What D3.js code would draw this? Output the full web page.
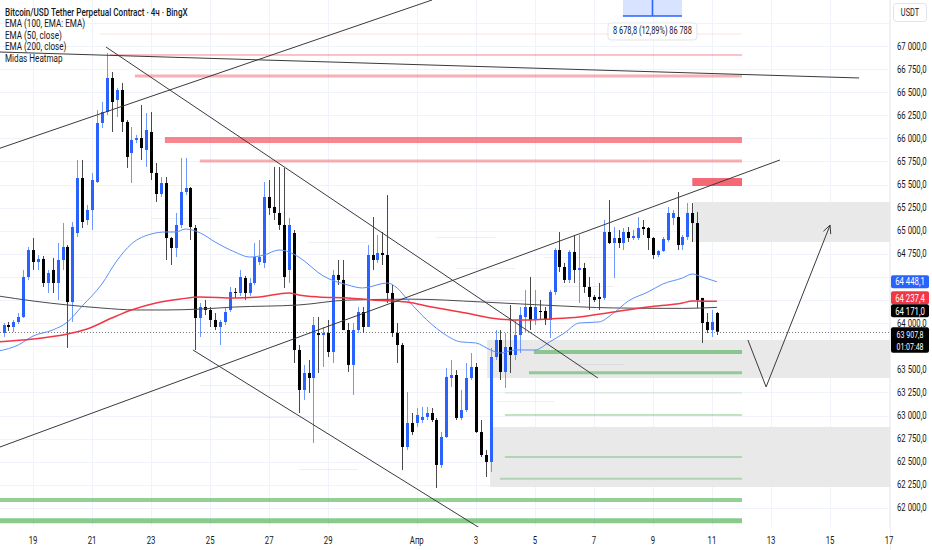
<!DOCTYPE html>
<html>
<head>
<meta charset="utf-8">
<script src="https://cdn.jsdelivr.net/npm/d3@7"></script>
<style>
  html, body { margin: 0; padding: 0; background: #fff; }
  svg { display: block; }
  text { font-family: "Roboto", "Liberation Sans", sans-serif; }
</style>
</head>
<body>
<div id="chart"></div>
<script>
// 4h candles, index 0 = 18 Mar 00:00
const opens = [63894,63980,63959,64013,64067,64500,64792,64662,64695,64435,64576,64435,64684,64825,64229,64976,65571,65117,65225,65528,66167,66286,66654,66416,66524,66178,65842,65983,66004,65875,66069,65626,65398,65517,64922,64814,65063,65420,65463,65030,64056,64175,64143,64035,63959,64013,64143,64338,64327,64489,64327,64435,64662,64652,65366,65258,65193,65063,64576,64976,63710,63277,63461,63407,63894,63872,63894,63688,64522,64468,63926,63548,63926,64121,63959,64738,64684,64760,64738,64327,63894,63764,62660,62920,62920,62952,62985,63028,62952,62465,62768,63407,63439,62974,63060,63407,63526,62822,62573,62498,63634,63818,63472,63742,63656,63872,64067,64175,64035,64132,64132,64035,64338,64792,64608,64468,64771,64576,64597,64392,64284,64284,64273,64987,64868,64922,64868,64987,64922,64922,65041,65030,64922,64738,64781,64900,65139,65149,64846,64933,65193,65084,64273,64013,63926,64110];
const highs = [64002,64013,64035,64110,64576,64825,64922,64738,64727,64576,64706,64868,65084,64846,65095,65766,65766,65279,65626,66307,66394,66924,66719,66546,66600,66199,66123,66037,66362,66275,66286,65734,65582,65582,64933,65193,65788,65788,65474,65063,64219,64251,64175,64110,64035,64164,64392,64381,64576,64511,64489,64868,64900,65528,65550,65691,65691,65680,65139,65009,63764,63548,63602,64067,64067,63959,64035,64576,64684,64684,64002,64002,64175,64175,64846,65149,64955,64987,65387,64413,64002,63786,63255,63028,63082,63093,63093,63082,62974,62822,63515,63602,63493,63277,63569,63677,63569,62952,62628,63732,63926,63926,63894,64197,64035,64175,64359,64500,64359,64251,64175,64359,64814,64987,64652,64792,64955,64955,64652,64500,64305,64435,65117,65333,65041,65009,65030,65041,65009,65149,65117,65041,64933,64792,64933,65258,65225,65420,64955,65301,65301,65204,64273,64110,64143,64121];
const lows = [63851,63916,63905,63991,64056,64468,64576,64576,64392,64327,64327,64251,64576,63732,64013,64933,65030,65063,65009,65517,66113,66253,66069,66232,66069,65680,65517,65950,65766,65691,65550,65312,65366,64684,64630,64716,65030,65387,64900,63710,63851,64089,63959,63926,63764,63980,64121,64273,64294,64251,64294,64413,64630,64597,65171,65117,65009,64381,64435,63569,63028,63169,63245,62703,63461,63526,63634,63569,64413,63926,63472,63223,63894,63894,63959,64576,64652,64630,64219,63851,63569,62411,62628,62790,62877,62920,62952,62931,62216,62433,62757,63309,62952,62952,63039,63385,62812,62552,62335,62389,63602,63385,63299,63461,63602,63677,63894,63926,63980,64035,63980,63840,64305,64554,64435,64435,64435,64219,64327,64143,64229,64143,64251,64857,64489,64814,64792,64879,64900,64900,64955,64792,64695,64716,64771,64879,65063,64792,64792,64900,64879,64164,63786,63894,63851,63872];
const closes = [63980,63959,64013,64067,64500,64792,64662,64695,64435,64543,64435,64684,64825,64229,65041,65571,65095,65225,65550,66167,66286,66654,66394,66524,66178,65799,65983,66004,65896,66091,65626,65398,65517,64922,64814,65063,65420,65463,65041,64056,64175,64143,64035,63959,64013,64121,64338,64327,64500,64327,64435,64716,64716,65366,65247,65193,65063,64500,65063,63710,63277,63461,63407,63980,63872,63894,63688,64522,64468,63926,63548,63926,64121,63959,64738,64684,64760,64738,64327,63894,63764,62660,62920,62822,63006,62985,63028,62952,62465,62768,63418,63439,62974,63060,63407,63526,62822,62573,62498,63634,63818,63472,63742,63656,63872,64089,64175,64035,64175,64121,64035,64338,64792,64608,64468,64771,64576,64597,64392,64284,64251,64262,64987,64868,64922,64868,64987,64922,64944,65030,65019,64922,64738,64781,64911,65193,65193,64846,64933,65193,65084,64251,64002,63926,64013,63907.8];

// indicator lines read at candle indices
const ema50Idx = [-1,3,6,10,13,16,20,23,26,30,33,35,37,40,43,47,50,53,56,58,60,65,70,73,78,80,82,85,89,93,96,99,101,104,108,111,114,117,121,124,127,131,134,138,140,142,145];
const ema50Val = [63699,63764,63861,63926,64013,64186,64424,64673,64857,64965,64987,64987,65019,64976,64879,64771,64716,64738,64792,64771,64716,64511,64413,64381,64435,64381,64262,64089,63905,63797,63786,63710,63677,63710,63710,63797,63894,64002,64013,64110,64240,64338,64424,64489,64532,64500,64448];
const ema200Idx = [-1,6,13,17,22,26,31,36,40,47,52,58,60,64,70,75,82,87,94,99,104,107,111,117,124,131,138,140,145];
const ema200Val = [63797,63829,63883,63937,64056,64143,64219,64262,64284,64273,64284,64327,64305,64284,64273,64251,64229,64175,64110,64056,64035,64035,64046,64067,64121,64175,64219,64240,64237];
const ema100Idx = [-1,6,13,20,27,33,40,47,60,70,83,97,110,124,138,145];
const ema100Val = [64294,64240,64197,64164,64143,64143,64153,64175,64197,64250,64260,64230,64195,64165,64160,64171];

// drawn trend lines: [index, price] pairs
const trendLines = [
  [[-0.71, 65894], [87.1, 67498]],
  [[-0.71, 66935], [173.9, 66654]],
  [[20.83, 66989], [120.8, 63407]],
  [[38.5, 63710], [97.5, 61760]],
  [[-0.71, 62660], [157.8, 65766]]
];
const projection = [[151.3, 63818], [155.0, 63310], [168.0, 65061]];

// Midas heatmap levels: [startIdx, endIdx, price, style]
const redLevels = [[19.6, 150.1, 67130, 0], [21.6, 150.1, 66903, 1], [26.7, 150.1, 66675, 2], [32.8, 150.1, 65983, 3], [39.9, 150.1, 65755, 2]];
const redBlock = [140, 150.1, 65571, 65485];
const greenLevels = [[107.8, 150.1, 63688, 3], [106.8, 150.1, 63464, 2], [101.9, 150.1, 63245, 0], [101.9, 150.1, 63006, 1], [101.9, 150.1, 62552, 1], [100.9, 150.1, 62317, 1], [-1, 150.1, 62087, 3], [-1, 150.1, 61862, 4]];
const grayZones = [[98.3, 181, 63818, 63407], [98.9, 181, 62877, 62227], [140.2, 181, 65312, 64879]];
// faint gray heatmap ticks: [startIdx, endIdx, price]
const faintLevels = [[88, 100, 64932], [92, 104, 64600], [97, 106, 64250], [30, 44, 65140], [100, 112, 63160], [40, 60, 63330], [42, 62, 62980], [60, 72, 62420], [110, 124, 64720], [113, 124, 64400], [116, 126, 63560], [62, 74, 64880]];

const xTickDates = ["2024-03-19","2024-03-21","2024-03-23","2024-03-25","2024-03-27","2024-03-29","2024-04-01","2024-04-03","2024-04-05","2024-04-07","2024-04-09","2024-04-11","2024-04-13","2024-04-15","2024-04-17"];
const yTicks = d3.range(62000, 67251, 250);
const legendLines = ["Bitcoin/USD Tether Perpetual Contract · 4ч · BingX", "EMA (100, EMA: EMA)", "EMA (50, close)", "EMA (200, close)", "Midas Heatmap"];
const priceTags = [
  { price: 64448.1, color: "#2962ff", text: "64 448,1" },
  { price: 64237.4, color: "#f23645", text: "64 237,4" },
  { price: 64171.0, color: "#000000", text: "64 171,0" }
];
const lastPrice = 63907.8;
const countdown = "01:07:48";
const measureText = "8 678,8 (12,89%) 86 788";
const measure = { start: 125.9, end: 137.9, bottom: 67325 };

const W = 932, H = 550, plotW = 890, plotH = 527;
const SX = 0.74; // horizontal squeeze of the reference's lettering
const T0 = Date.UTC(2024, 2, 18);
const t = i => new Date(T0 + i * 4 * 3600 * 1000);

const x = d3.scaleUtc().domain([t(-3.5 / 4.92), t((plotW - 3.5) / 4.92)]).range([0, plotW]);
const y = d3.scaleLinear().domain([61794, 67498]).range([plotH, 0]);
const xi = i => x(t(i));
const fmt = v => d3.format(",.1f")(v).replace(/,/g, " ").replace(".", ",");

function label(parent, px, py, str, size, fill, anchor, weight) {
  return parent.append("text")
    .attr("transform", `translate(${px},${py}) scale(${SX},1)`)
    .attr("text-anchor", anchor || "start")
    .attr("font-size", size).attr("fill", fill)
    .attr("font-weight", weight || 400)
    .text(str);
}

const svg = d3.select("#chart").append("svg").attr("width", W).attr("height", H);
svg.append("rect").attr("width", W).attr("height", H).attr("fill", "#fff");

const plot = svg.append("g");
plot.append("clipPath").attr("id", "clip").append("rect").attr("width", plotW).attr("height", plotH);
const g = plot.append("g").attr("clip-path", "url(#clip)");

// grid
g.append("g").selectAll("line").data(yTicks).join("line")
  .attr("x1", 0).attr("x2", plotW)
  .attr("y1", d => Math.round(y(d)) + 0.5).attr("y2", d => Math.round(y(d)) + 0.5)
  .attr("stroke", "#f0f3fa");
g.append("g").selectAll("line").data(xTickDates).join("line")
  .attr("x1", d => Math.round(x(new Date(d))) + 0.5).attr("x2", d => Math.round(x(new Date(d))) + 0.5)
  .attr("y1", 0).attr("y2", plotH)
  .attr("stroke", "#f0f3fa");

// gray zones
g.append("g").selectAll("rect").data(grayZones).join("rect")
  .attr("x", d => xi(d[0])).attr("width", d => xi(d[1]) - xi(d[0]))
  .attr("y", d => y(d[2])).attr("height", d => y(d[3]) - y(d[2]))
  .attr("fill", "#e9e9ea");

// faint heatmap ticks
g.append("g").selectAll("line").data(faintLevels).join("line")
  .attr("x1", d => xi(d[0])).attr("x2", d => xi(d[1]))
  .attr("y1", d => Math.round(y(d[2])) + 0.5).attr("y2", d => Math.round(y(d[2])) + 0.5)
  .attr("stroke", "rgba(120,123,134,0.12)");

// heatmap levels
const redStyle = [[1, "rgba(242,54,69,0.15)"], [2, "rgba(242,54,69,0.3)"], [3, "rgba(242,54,69,0.4)"], [6, "rgba(242,54,69,0.6)"]];
g.append("g").selectAll("line").data(redLevels).join("line")
  .attr("x1", d => xi(d[0])).attr("x2", d => xi(d[1]))
  .attr("y1", d => y(d[2])).attr("y2", d => y(d[2]))
  .attr("stroke", d => redStyle[d[3]][1]).attr("stroke-width", d => redStyle[d[3]][0]);
g.append("rect")
  .attr("x", xi(redBlock[0])).attr("width", xi(redBlock[1]) - xi(redBlock[0]))
  .attr("y", y(redBlock[2])).attr("height", y(redBlock[3]) - y(redBlock[2]))
  .attr("fill", "rgba(242,54,69,0.75)");
const greenStyle = [[1, "rgba(76,175,80,0.25)"], [2, "rgba(76,175,80,0.35)"], [3, "rgba(76,175,80,0.55)"], [4, "rgba(76,175,80,0.6)"], [5, "rgba(76,175,80,0.65)"]];
g.append("g").selectAll("line").data(greenLevels).join("line")
  .attr("x1", d => xi(d[0])).attr("x2", d => xi(d[1]))
  .attr("y1", d => y(d[2])).attr("y2", d => y(d[2]))
  .attr("stroke", d => greenStyle[d[3]][1]).attr("stroke-width", d => greenStyle[d[3]][0]);

// last price dotted line
g.append("line").attr("x1", 0).attr("x2", plotW)
  .attr("y1", Math.round(y(lastPrice)) + 0.5).attr("y2", Math.round(y(lastPrice)) + 0.5)
  .attr("stroke", "#787b86").attr("stroke-dasharray", "1,2");

// candles
const candles = d3.range(opens.length).map(i => ({ i, o: opens[i], h: highs[i], l: lows[i], c: closes[i] }));
const up = d => d.c >= d.o;
const cg = g.append("g");
cg.selectAll("line").data(candles).join("line")
  .attr("x1", d => Math.round(xi(d.i)) + 0.5).attr("x2", d => Math.round(xi(d.i)) + 0.5)
  .attr("y1", d => y(d.h)).attr("y2", d => y(d.l))
  .attr("stroke", d => up(d) ? "#6d98ff" : "#4a4a4a");
cg.selectAll("rect").data(candles).join("rect")
  .attr("x", d => Math.round(xi(d.i)) - 1).attr("width", 3)
  .attr("y", d => y(Math.max(d.o, d.c)))
  .attr("height", d => Math.max(1, Math.abs(y(d.o) - y(d.c))))
  .attr("fill", d => up(d) ? "#2962ff" : "#000");

// EMAs
const emaLine = d3.line().x(d => xi(d[0])).y(d => y(d[1])).curve(d3.curveMonotoneX);
const emas = [
  [ema100Idx, ema100Val, "#4a4a4a", 1],
  [ema50Idx, ema50Val, "#5b8ff9", 1],
  [ema200Idx, ema200Val, "#f23645", 1.5]
];
emas.forEach(([idx, val, col, w]) => {
  g.append("path").datum(idx.map((d, k) => [d, val[k]]))
    .attr("d", emaLine).attr("fill", "none").attr("stroke", col).attr("stroke-width", w);
});

// trend lines
const straight = d3.line().x(d => xi(d[0])).y(d => y(d[1]));
g.append("g").selectAll("path").data(trendLines).join("path")
  .attr("d", straight).attr("fill", "none").attr("stroke", "#3a3a3a").attr("stroke-width", 1);
g.append("path").datum(projection).attr("d", straight)
  .attr("fill", "none").attr("stroke", "#3a3a3a").attr("stroke-width", 1);
const tip = projection[projection.length - 1], prev = projection[projection.length - 2];
const ang = Math.atan2(y(tip[1]) - y(prev[1]), xi(tip[0]) - xi(prev[0]));
[ang + Math.PI - 0.45, ang + Math.PI + 0.45].forEach(a => {
  g.append("line").attr("x1", xi(tip[0])).attr("y1", y(tip[1]))
    .attr("x2", xi(tip[0]) + 9 * Math.cos(a)).attr("y2", y(tip[1]) + 9 * Math.sin(a))
    .attr("stroke", "#3a3a3a");
});

// measure box
const mx0 = xi(measure.start), mx1 = xi(measure.end), my = y(measure.bottom);
g.append("rect").attr("x", mx0).attr("y", 0).attr("width", mx1 - mx0).attr("height", my).attr("fill", "rgba(41,98,255,0.18)");
g.append("line").attr("x1", mx0).attr("x2", mx1).attr("y1", my).attr("y2", my).attr("stroke", "#2962ff").attr("stroke-width", 1.5);
g.append("line").attr("x1", (mx0 + mx1) / 2).attr("x2", (mx0 + mx1) / 2).attr("y1", 0).attr("y2", my).attr("stroke", "#2962ff").attr("stroke-width", 1.5);
const mlab = g.append("g");
const mt = label(mlab, (mx0 + mx1) / 2, my + 18, measureText, 10, "#131722", "middle");
const mw = mt.node().getBBox().width * SX;
mlab.insert("rect", "text").attr("x", (mx0 + mx1) / 2 - mw / 2 - 5).attr("y", my + 7).attr("width", mw + 10).attr("height", 17)
  .attr("rx", 3).attr("fill", "#fff").attr("stroke", "#e3e5ea");

// legend
const lg = svg.append("g");
legendLines.forEach((d, k) => label(lg, 5, 15.5 + k * 11.5, d, 11, "#131722", "start", k === 0 ? 500 : 400));

// price tags with simple collision spreading
const tagH = 13;
const tags = priceTags.map(d => ({ ...d, cy: y(d.price) }));
for (let k = 1; k < tags.length; k++) {
  const ov = tags[k - 1].cy + tagH - tags[k].cy;
  if (ov > 0) { tags[k - 1].cy -= ov / 2; tags[k].cy += ov / 2; }
}
const ly = y(lastPrice);
const lastTop = ly - 4.5, lastH = 25.5;
const covered = [...tags.map(d => [d.cy - tagH / 2, d.cy + tagH / 2]), [lastTop, lastTop + lastH], [3, 22]];

// right axis (labels hidden where a tag sits on top, as the platform does)
svg.append("line").attr("x1", plotW + 0.5).attr("x2", plotW + 0.5).attr("y1", 0).attr("y2", H).attr("stroke", "#eef0f3");
const ya = svg.append("g");
yTicks.filter(d => !covered.some(([a, b]) => y(d) + 2 > a && y(d) - 2 < b))
  .forEach(d => label(ya, 897, y(d) + 3.5, fmt(d), 10.5, "#131722"));

const tg = svg.append("g");
tags.forEach(d => {
  tg.append("rect").attr("x", 891).attr("y", d.cy - tagH / 2).attr("width", 38).attr("height", tagH).attr("rx", 2).attr("fill", d.color);
  label(tg, 910, d.cy + 3.7, d.text, 10.5, "#fff", "middle");
});
tg.append("rect").attr("x", 891).attr("y", lastTop).attr("width", 38).attr("height", lastH).attr("rx", 2).attr("fill", "#000");
label(tg, 910, lastTop + 11, fmt(lastPrice), 9.5, "#fff", "middle");
label(tg, 910, lastTop + 22.5, countdown, 9.5, "#fff", "middle");

// USDT box
svg.append("rect").attr("x", 893.5).attr("y", 3.5).attr("width", 33).attr("height", 18).attr("rx", 3)
  .attr("fill", "#fff").attr("stroke", "#e0e3eb");
label(svg, 910, 16, "USDT", 10, "#131722", "middle");

// bottom axis
const xa = svg.append("g");
xTickDates.forEach(d => {
  const dt = new Date(d);
  label(xa, x(dt), 544, dt.getUTCDate() === 1 ? "Апр" : String(dt.getUTCDate()), 10.5, "#131722", "middle");
});
</script>
</body>
</html>
